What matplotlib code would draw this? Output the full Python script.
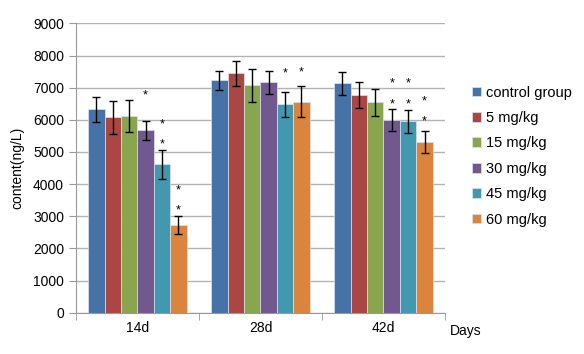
import numpy as np
import matplotlib
matplotlib.use("Agg")
import matplotlib.pyplot as plt
from matplotlib.patches import Patch

days = ["14d", "28d", "42d"]
groups = ["control group", "5 mg/kg", "15 mg/kg", "30 mg/kg", "45 mg/kg", "60 mg/kg"]
colors = ["#4572A7", "#AA4643", "#89A54E", "#71588F", "#4198AF", "#DB843D"]

# mean content per group (rows) for each day (columns)
means = [
    [6325, 7226, 7132],
    [6076, 7444, 6769],
    [6116, 7070, 6542],
    [5671, 7164, 5992],
    [4624, 6480, 5950],
    [2727, 6563, 5317],
]
sds = [
    [395, 290, 360],
    [520, 380, 410],
    [510, 510, 430],
    [295, 350, 335],
    [450, 390, 365],
    [280, 490, 340],
]
# significance stars: (group, day, y)
stars = [
    (3, 0, 6767),
    (4, 0, 5868), (4, 0, 5246),
    (5, 0, 3815), (5, 0, 3193),
    (4, 1, 7444),
    (5, 1, 7484),
    (3, 2, 7132), (3, 2, 6489),
    (4, 2, 7132), (4, 2, 6489),
    (5, 2, 6563), (5, 2, 5939),
]

plt.rcParams['font.family'] = ['Liberation Sans', 'DejaVu Sans']
fig = plt.figure(figsize=(5.84, 3.54), dpi=100)
ax = fig.add_axes([0.130, 0.1167, 0.632, 0.8173])

x = np.arange(len(days))
w = 0.8 / len(groups)
for i, g in enumerate(groups):
    pos = x - 0.4 + w * (i + 0.5)
    ax.bar(pos, means[i], w, color=colors[i], edgecolor="#dde3ee", linewidth=0.5, zorder=2)
    ax.errorbar(pos, means[i], yerr=sds[i], fmt="none", ecolor="black",
                elinewidth=1.0, capsize=3, capthick=1.0, zorder=3)

for gi, di, y in stars:
    ax.text(x[di] - 0.4 + w * (gi + 0.5), y, "*", ha="center", va="center",
            fontsize=9, zorder=4)

ax.set_xlim(-0.5, 2.5)
ax.set_ylim(0, 9000)
ax.set_yticks(np.arange(0, 9001, 1000))
ax.set_xticks(x)
ax.set_xticklabels(days, fontsize=10)
ax.set_xticks([-0.5, 0.5, 1.5, 2.5], minor=True)
ax.tick_params(axis="x", which="major", length=0, pad=6)
ax.tick_params(axis="x", which="minor", length=5, color="#999999")
ax.tick_params(axis="y", length=5, color="#999999", labelsize=10)
ax.grid(axis="y", color="#b3b3b3", linewidth=1.0, zorder=0)
ax.set_axisbelow(True)
for s in ["top", "right"]:
    ax.spines[s].set_visible(False)
for s in ["left", "bottom"]:
    ax.spines[s].set_color("#999999")

ax.set_ylabel("content(ng/L)", fontsize=10, labelpad=6)
fig.text(0.771, 0.066, "Days", fontsize=10, ha="left", va="center")

handles = [Patch(facecolor=c, edgecolor="#dde3ee", linewidth=0.5) for c in colors]
fig.legend(handles, groups, loc="upper left", bbox_to_anchor=(0.785, 0.795),
           frameon=False, fontsize=10.5, handlelength=0.65, handleheight=0.65,
           handletextpad=0.35, labelspacing=0.78)

fig.savefig("out.png", dpi=100)
